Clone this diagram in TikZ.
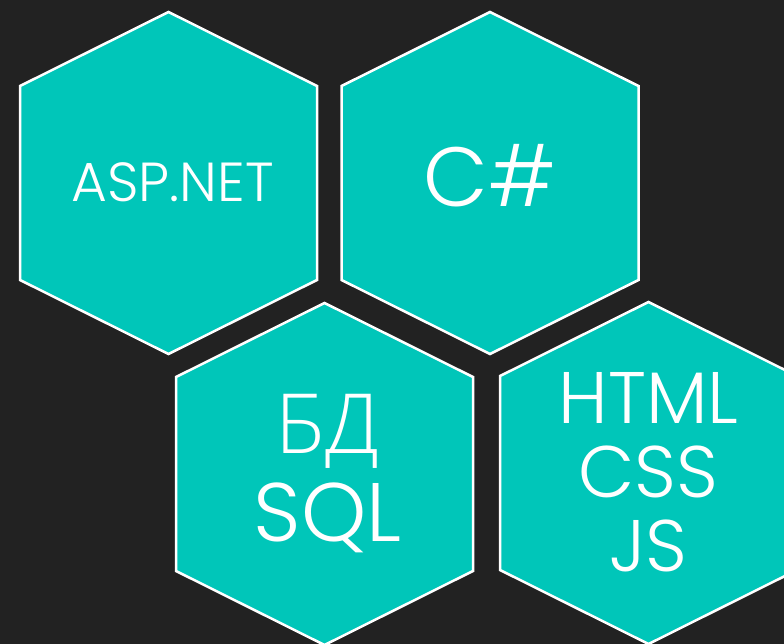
\documentclass[tikz,border=0pt]{standalone}
\usepackage{fontspec}
\usepackage{xcolor}
\usepackage{tikz}
\setmainfont{Poppins Light}
\newfontfamily\cyrfont{Open Sans Light}

\definecolor{bgdark}{HTML}{222222}
\definecolor{hexteal}{HTML}{00C6B9}

\tikzset{
    hexcell/.style={fill=hexteal, draw=white, line width=2.5pt, line join=miter},
    hexlabel/.style={text=white, align=center, inner sep=0pt}
}

% pointy-top hexagon round a centre
\newcommand{\drawhex}[1]{%
    \draw[hexcell] (#1) ++(0,-171) -- ++(148.5,74) -- ++(0,194) -- ++(-148.5,74)
        -- ++(-148.5,-74) -- ++(0,-194) -- cycle;}

\begin{document}
\begin{tikzpicture}[x=1pt, y=-1pt]
    \useasboundingbox (0,0) rectangle (784,644);
    \clip (0,0) rectangle (784,644);
    \fill[bgdark] (0,0) rectangle (784,644);

    \coordinate (Asp) at (168.5,183);
    \coordinate (Cs) at (490,183);
    \coordinate (Db) at (324.5,474);
    \coordinate (Web) at (648.5,473);

    \drawhex{Asp}
    \drawhex{Cs}
    \drawhex{Db}
    \drawhex{Web}

    \node[hexlabel, font=\fontsize{55}{55}\selectfont] (aspnet) at ([xshift=4pt, yshift=1pt]Asp) {ASP.NET};
    \node[hexlabel, font=\fontsize{84}{84}\selectfont] (csharp) at ([yshift=7pt]Cs) {C\#};
    \node[hexlabel, font=\fontsize{83}{88}\selectfont] (dbsql) at ([xshift=3pt]Db) {{\cyrfont БД}\\SQL};
    \node[hexlabel, font=\fontsize{73}{74}\selectfont] (htmljs) at ([yshift=1pt]Web) {HTML\\CSS\\JS};
\end{tikzpicture}
\end{document}
